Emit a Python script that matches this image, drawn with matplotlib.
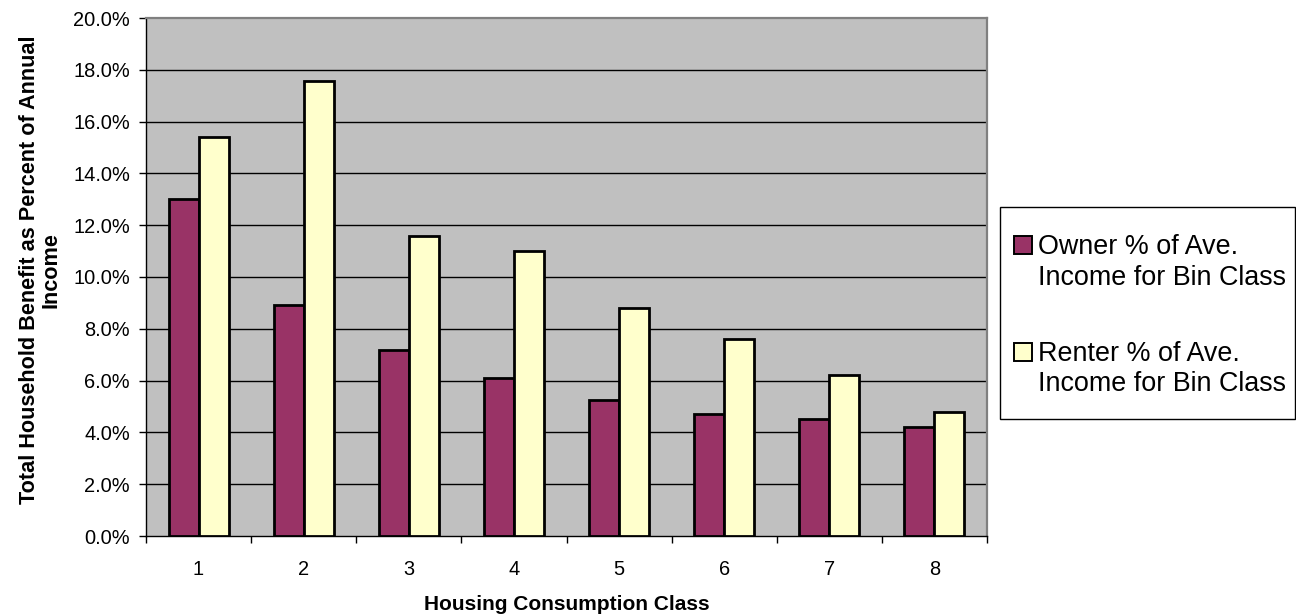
import matplotlib
matplotlib.use("Agg")
import matplotlib.pyplot as plt
from matplotlib.patches import Rectangle
from matplotlib.ticker import FuncFormatter, FixedLocator
import numpy as np

# Housing consumption classes and benefit as share of annual income
classes = ["1", "2", "3", "4", "5", "6", "7", "8"]
owner_pct = [13.0, 8.9, 7.2, 6.1, 5.25, 4.7, 4.5, 4.2]
renter_pct = [15.4, 17.55, 11.6, 11.0, 8.8, 7.6, 6.2, 4.8]
series_labels = [("Owner % of Ave.", "Income for Bin Class"),
                 ("Renter % of Ave.", "Income for Bin Class")]
y_ticks = [0, 2, 4, 6, 8, 10, 12, 14, 16, 18, 20]

OWNER_COLOR = "#993366"
RENTER_COLOR = "#FFFFCC"
PLOT_BG = "#C0C0C0"

W, H = 1296, 616
plt.rcParams['font.family'] = ['Liberation Sans', 'DejaVu Sans']

fig = plt.figure(figsize=(W / 100, H / 100), dpi=100)
fig.patch.set_facecolor("white")

# plot area in pixel coordinates: left 146, right 987, top 18, bottom 536
ax = fig.add_axes([146 / W, 1 - 536 / H, 841 / W, 518 / H])
ax.set_facecolor(PLOT_BG)

x = np.arange(1, len(classes) + 1)
bw = 1 / 3.5  # 150% gap width
ax.bar(x - bw / 2, owner_pct, width=bw, color=OWNER_COLOR,
       edgecolor="black", linewidth=2.0, zorder=3)
ax.bar(x + bw / 2, renter_pct, width=bw, color=RENTER_COLOR,
       edgecolor="black", linewidth=2.0, zorder=3)

ax.set_xlim(0.5, len(classes) + 0.5)
ax.set_ylim(0, 20)

# horizontal gridlines
for yv in y_ticks[1:-1]:
    ax.axhline(yv, color="black", linewidth=1.0, zorder=1)

ax.yaxis.set_major_locator(FixedLocator(y_ticks))
ax.yaxis.set_major_formatter(FuncFormatter(lambda v, p: f"{v:.1f}%"))
ax.tick_params(axis="y", direction="out", length=5, width=1,
               labelsize=14.4, pad=6.5, colors="black")

# category boundaries carry the ticks, centres carry the labels
ax.set_xticks(np.arange(0.5, len(classes) + 1, 1.0))
ax.set_xticklabels([])
ax.set_xticks(x, minor=True)
ax.set_xticklabels(classes, minor=True)
ax.tick_params(axis="x", which="major", direction="out", length=5, width=1)
ax.tick_params(axis="x", which="minor", length=0, labelsize=14.4, pad=17)

for side in ("top", "right"):
    ax.spines[side].set_color("#808080")
    ax.spines[side].set_linewidth(1.6)
for side in ("left", "bottom"):
    ax.spines[side].set_color("black")
    ax.spines[side].set_linewidth(1.0)

# axis titles
fig.text(566.5 / W, 1 - 610 / H, "Housing Consumption Class",
         ha="center", va="baseline", fontsize=15, fontweight="bold")
fig.text(30 / W, 1 - 270 / H, "Total Household Benefit as Percent of Annual",
         ha="center", va="center", rotation=90, fontsize=15.6, fontweight="bold")
fig.text(51 / W, 1 - 270 / H, "Income",
         ha="center", va="center", rotation=90, fontsize=15.6, fontweight="bold")

# legend box
fig.patches.append(Rectangle((1000 / W, 1 - 419 / H), 295 / W, 212 / H,
                             transform=fig.transFigure, facecolor="white",
                             edgecolor="black", linewidth=1.0))
handle_tops = [236, 343]
baselines = [(254, 285), (361, 391)]
for color, top, (b1, b2), (l1, l2) in zip([OWNER_COLOR, RENTER_COLOR],
                                           handle_tops, baselines, series_labels):
    fig.patches.append(Rectangle((1014 / W, 1 - (top + 18) / H), 18 / W, 18 / H,
                                 transform=fig.transFigure, facecolor=color,
                                 edgecolor="black", linewidth=1.4))
    fig.text(1038 / W, 1 - b1 / H, l1, ha="left", va="baseline", fontsize=19.4)
    fig.text(1038 / W, 1 - b2 / H, l2, ha="left", va="baseline", fontsize=19.4)

fig.savefig("out.png", dpi=100)
